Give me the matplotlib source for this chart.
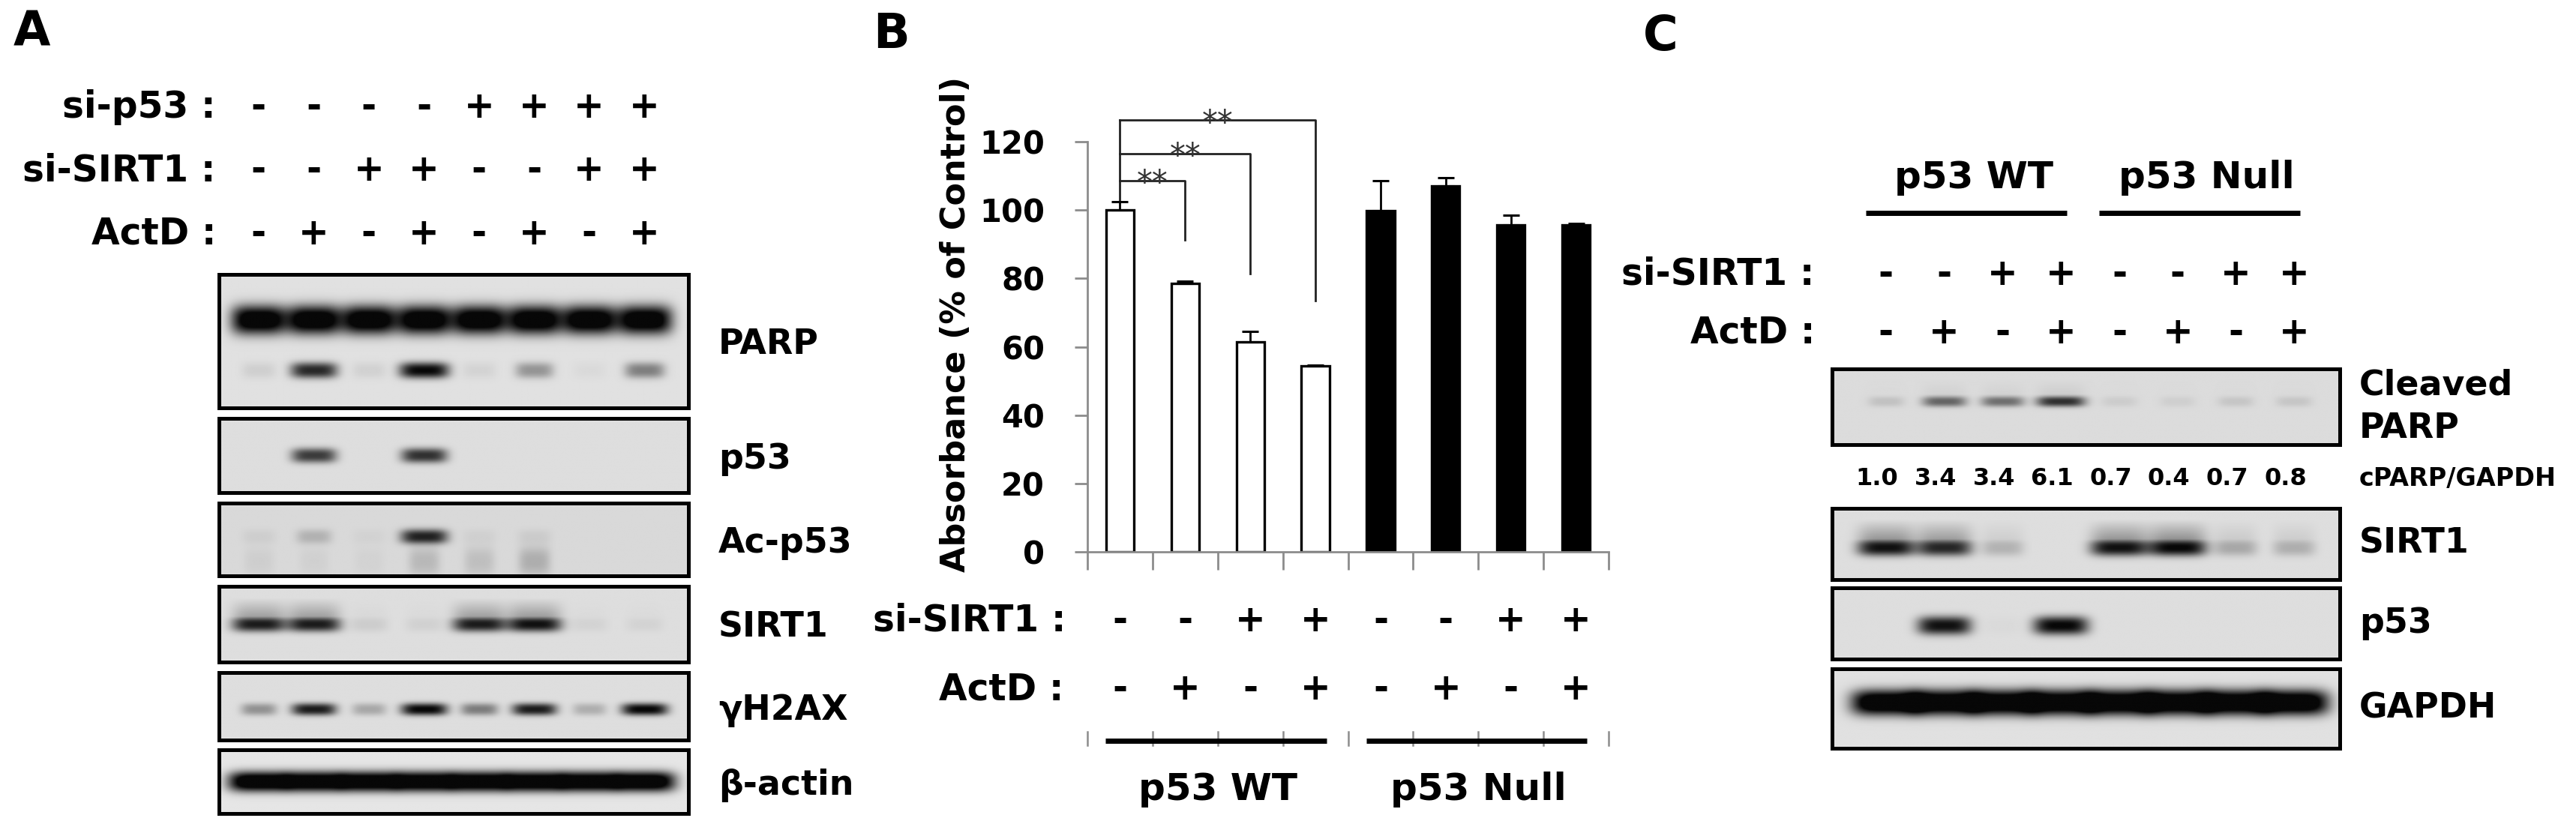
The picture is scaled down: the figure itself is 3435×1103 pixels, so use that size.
import numpy as np
import matplotlib
matplotlib.use('Agg')
import matplotlib.pyplot as plt
from matplotlib.transforms import blended_transform_factory

plt.rcParams['font.family'] = ['DejaVu Sans']
plt.rcParams['font.weight'] = 'bold'

W, H = 3435, 1103

# ---------------- data ----------------
lanes = np.arange(1, 9)

# panel A treatments
a_si_p53 = ['-', '-', '-', '-', '+', '+', '+', '+']
a_si_sirt1 = ['-', '-', '+', '+', '-', '-', '+', '+']
a_actd = ['-', '+', '-', '+', '-', '+', '-', '+']

# panel A band intensities (0 = none, 1 = saturated)
a_parp_full = [1.2, 1.2, 1.2, 1.2, 1.2, 1.2, 1.2, 1.2]
a_parp_cleaved = [0.08, 0.85, 0.07, 1.0, 0.06, 0.35, 0.03, 0.45]
a_p53 = [0.0, 0.75, 0.0, 0.8, 0.0, 0.0, 0.0, 0.0]
a_acp53 = [0.05, 0.18, 0.03, 0.85, 0.04, 0.06, 0.0, 0.0]
a_acp53_smear = [0.05, 0.04, 0.03, 0.15, 0.12, 0.2, 0.0, 0.0]
a_sirt1 = [0.9, 0.9, 0.08, 0.06, 0.9, 0.95, 0.05, 0.05]
a_gh2ax = [0.35, 0.9, 0.25, 1.0, 0.45, 0.9, 0.22, 1.0]
a_actin = [1.3, 1.3, 1.3, 1.3, 1.3, 1.3, 1.3, 1.3]

# panel B
b_si_sirt1 = ['-', '-', '+', '+', '-', '-', '+', '+']
b_actd = ['-', '+', '-', '+', '-', '+', '-', '+']
b_values = [100.0, 78.6, 61.4, 54.4, 99.8, 107.1, 95.6, 95.7]
b_errors = [2.5, 0.6, 3.0, 0.2, 8.7, 2.4, 2.8, 0.3]
b_groups = ['p53 WT', 'p53 Null']
b_group_members = [[0, 1, 2, 3], [4, 5, 6, 7]]
b_sig_targets = [1, 2, 3]
b_sig_tops = [108.7, 116.5, 126.3]
b_sig_ends = [91.3, 81.3, 73.4]
b_sig_labels = ['**', '**', '**']

# panel C
c_groups = ['p53 WT', 'p53 Null']
c_group_members = [[1, 2, 3, 4], [5, 6, 7, 8]]
c_si_sirt1 = ['-', '-', '+', '+', '-', '-', '+', '+']
c_actd = ['-', '+', '-', '+', '-', '+', '-', '+']
c_cparp = [0.12, 0.55, 0.5, 0.8, 0.07, 0.06, 0.1, 0.1]
c_cparp_ratio = ['1.0', '3.4', '3.4', '6.1', '0.7', '0.4', '0.7', '0.8']
c_sirt1 = [0.95, 0.85, 0.2, 0.0, 0.95, 1.0, 0.25, 0.22]
c_p53 = [0.0, 0.95, 0.02, 1.0, 0.0, 0.0, 0.0, 0.0]
c_gapdh = [1.3, 1.3, 1.3, 1.3, 1.3, 1.3, 1.3, 1.3]

# ---------------- helpers ----------------
fig = plt.figure(figsize=(W / 100, H / 100), dpi=100)


def fy(ypx):
    return 1 - ypx / H


def fx(xpx):
    return xpx / W


def strip(x0, y0, x1, y1, xlim):
    ax = fig.add_axes([fx(x0), fy(y1), (x1 - x0) / W, (y1 - y0) / H])
    ax.set_xlim(*xlim)
    ax.set_ylim(1, 0)
    ax.set_xticks([])
    ax.set_yticks([])
    for s in ax.spines.values():
        s.set_linewidth(3.6)
        s.set_color('black')
    return ax


def bands(ax, levels, yc, wx=0.45, wy=0.1, smear=0.0, smear_len=0.3):
    x0, x1 = ax.get_xlim()
    X, Y = np.meshgrid(np.linspace(x0, x1, 700), np.linspace(0, 1, 160))
    dark = np.zeros_like(X)
    for lane, lv in zip(lanes, levels):
        w = wx * (0.65 + 0.35 * min(lv, 1.0))
        px = np.exp(-np.abs((X - lane) / w) ** 4)
        py = np.exp(-np.abs((Y - yc) / wy) ** 2.5)
        if smear:
            tail = smear * np.clip(1 - (yc - Y) / smear_len, 0, 1) * (Y < yc)
            py = np.maximum(py, tail)
        dark += lv * px * py
    return dark


def show(ax, dark, bg=0.87):
    x0, x1 = ax.get_xlim()
    img = np.clip(bg - 0.85 * dark, 0.03, 1)
    ax.imshow(img, cmap='gray', vmin=0, vmax=1, extent=(x0, x1, 1, 0),
              aspect='auto', interpolation='bilinear')
    ax.set_xlim(x0, x1)
    ax.set_ylim(1, 0)


def sign_row(ax, xs, signs, ypx, label, label_right, size=35):
    tr = blended_transform_factory(ax.transData, fig.transFigure)
    for x, s in zip(xs, signs):
        ax.text(x, fy(ypx), s, transform=tr, ha='center', va='center_baseline',
                fontsize=size, clip_on=False)
    fig.text(fx(label_right), fy(ypx), label + ' :', ha='right',
             va='center_baseline', fontsize=size)


# ---------------- panel A ----------------
fig.text(fx(18), fy(37), 'A', fontsize=46, va='center_baseline', ha='left')
a_xlim = (0.28, 8.8)
a_strips = [(366, 544), (558, 657), (671, 768), (782, 883), (897, 987), (1000, 1085)]
a_labels = ['PARP', 'p53', 'Ac-p53', 'SIRT1', '\u03b3H2AX', '\u03b2-actin']
a_axes = [strip(292, y0, 918, y1, a_xlim) for y0, y1 in a_strips]

ax = a_axes[0]
show(ax, bands(ax, a_parp_full, 0.34, wx=0.5, wy=0.11) +
     bands(ax, a_parp_cleaved, 0.72, wx=0.45, wy=0.06), bg=0.88)
ax = a_axes[1]
show(ax, bands(ax, a_p53, 0.5, wx=0.45, wy=0.1))
ax = a_axes[2]
show(ax, bands(ax, a_acp53, 0.46, wx=0.45, wy=0.1) +
     bands(ax, a_acp53_smear, 0.8, wx=0.4, wy=0.2), bg=0.85)
ax = a_axes[3]
show(ax, bands(ax, a_sirt1, 0.5, wx=0.5, wy=0.1, smear=0.45, smear_len=0.35))
ax = a_axes[4]
show(ax, bands(ax, a_gh2ax, 0.55, wx=0.42, wy=0.09))
ax = a_axes[5]
show(ax, bands(ax, a_actin, 0.5, wx=0.56, wy=0.16), bg=0.9)

for (y0, y1), lab in zip(a_strips, a_labels):
    fig.text(fx(958), fy((y0 + y1) / 2), lab, ha='left', va='center_baseline', fontsize=33)

sign_row(a_axes[0], lanes, a_si_p53, 138, 'si-p53', 288)
sign_row(a_axes[0], lanes, a_si_sirt1, 222, 'si-SIRT1', 288)
sign_row(a_axes[0], lanes, a_actd, 307, 'ActD', 288)

# ---------------- panel B ----------------
fig.text(fx(1164), fy(40), 'B', fontsize=46, va='center_baseline', ha='left')
axb = fig.add_axes([fx(1450), fy(736), (2145 - 1450) / W, (736 - 189) / H])
xb = np.arange(len(b_values))
fills = []
for g, members in enumerate(b_group_members):
    for m in members:
        fills.append('white' if g == 0 else 'black')
axb.bar(xb, b_values, width=0.43, color=fills, edgecolor='black', linewidth=2.4, zorder=2)
axb.errorbar(xb, b_values, yerr=[np.zeros(len(b_errors)), b_errors], fmt='none',
             ecolor='black', elinewidth=2.0, capsize=8, capthick=2.2, zorder=3)
axb.set_xlim(-0.5, len(b_values) - 0.5)
axb.set_ylim(0, 120)
axb.set_yticks(np.arange(0, 121, 20))
axb.set_xticks(np.arange(-0.5, len(b_values), 1))
axb.set_xticklabels([])
for side in ['top', 'right']:
    axb.spines[side].set_visible(False)
for side in ['left', 'bottom']:
    axb.spines[side].set_color('#8c8c8c')
    axb.spines[side].set_linewidth(2)
axb.tick_params(axis='y', direction='out', length=12, width=2, color='#8c8c8c',
                labelsize=30, pad=29)
axb.tick_params(axis='x', direction='out', length=17, width=2, color='#8c8c8c')
axb.set_ylabel('Absorbance (% of Control)', fontsize=32, fontweight='bold')
axb.yaxis.set_label_coords(-0.222, 0.555)

# significance brackets
base_top = b_values[0] + b_errors[0]
axb.plot([0, 0], [base_top, max(b_sig_tops)], color='#222222', lw=2.0, clip_on=False)
for tgt, top, end, lab in zip(b_sig_targets, b_sig_tops, b_sig_ends, b_sig_labels):
    axb.plot([0, tgt, tgt], [top, top, end], color='#222222', lw=2.0, clip_on=False)
    axb.text(tgt / 2, top - 3.6, lab, ha='center', va='baseline', fontsize=30,
             fontweight='normal', color='#333333', clip_on=False)

sign_row(axb, xb, b_si_sirt1, 823, 'si-SIRT1', 1422)
sign_row(axb, xb, b_actd, 914, 'ActD', 1418)

trb = blended_transform_factory(axb.transData, fig.transFigure)
for xt in np.arange(-0.5, len(b_values), 1):
    axb.plot([xt, xt], [fy(976), fy(994)], color='#8c8c8c', lw=1.8,
             transform=trb, clip_on=False)
for name, members in zip(b_groups, b_group_members):
    axb.plot([members[0] - 0.22, members[-1] + 0.17], [fy(988), fy(988)], color='black',
             lw=5, solid_capstyle='butt', transform=trb, clip_on=False)
    axb.text(np.mean(members), fy(1048), name, transform=trb, ha='center',
             va='center_baseline', fontsize=36, clip_on=False)

# ---------------- panel C ----------------
fig.text(fx(2191), fy(43), 'C', fontsize=46, va='center_baseline', ha='left')
c_xlim = (0.076, 8.78)
c_strips = [(492, 593), (678, 773), (784, 879), (892, 998)]
c_labels = ['Cleaved\nPARP', 'SIRT1', 'p53', 'GAPDH']
c_axes = [strip(2443, y0, 3120, y1, c_xlim) for y0, y1 in c_strips]

ax = c_axes[0]
show(ax, bands(ax, c_cparp, 0.43, wx=0.45, wy=0.07, smear=0.12, smear_len=0.3), bg=0.86)
ax = c_axes[1]
show(ax, bands(ax, c_sirt1, 0.55, wx=0.5, wy=0.12, smear=0.5, smear_len=0.4))
ax = c_axes[2]
show(ax, bands(ax, c_p53, 0.53, wx=0.47, wy=0.13))
ax = c_axes[3]
show(ax, bands(ax, c_gapdh, 0.43, wx=0.6, wy=0.16), bg=0.88)

for (y0, y1), lab in zip(c_strips, c_labels):
    fig.text(fx(3146), fy((y0 + y1) / 2), lab, ha='left', va='center',
             fontsize=33, linespacing=1.35)

trc = blended_transform_factory(c_axes[0].transData, fig.transFigure)
for x, r in zip(lanes, c_cparp_ratio):
    c_axes[0].text(x - 0.15, fy(635), r, transform=trc, ha='center',
                   va='center_baseline', fontsize=23, clip_on=False)
fig.text(fx(3146), fy(635), 'cPARP/GAPDH', ha='left', va='center_baseline', fontsize=24)

sign_row(c_axes[0], lanes, c_si_sirt1, 361, 'si-SIRT1', 2420)
sign_row(c_axes[0], lanes, c_actd, 439, 'ActD', 2420)

for name, members in zip(c_groups, c_group_members):
    c_axes[0].plot([members[0] - 0.35, members[-1] + 0.1], [fy(284), fy(284)],
                   color='black', lw=5, solid_capstyle='butt', transform=trc, clip_on=False)
    c_axes[0].text(np.mean(members), fy(232), name, transform=trc, ha='center',
                   va='center_baseline', fontsize=36, clip_on=False)

fig.savefig('out.png', dpi=100)
